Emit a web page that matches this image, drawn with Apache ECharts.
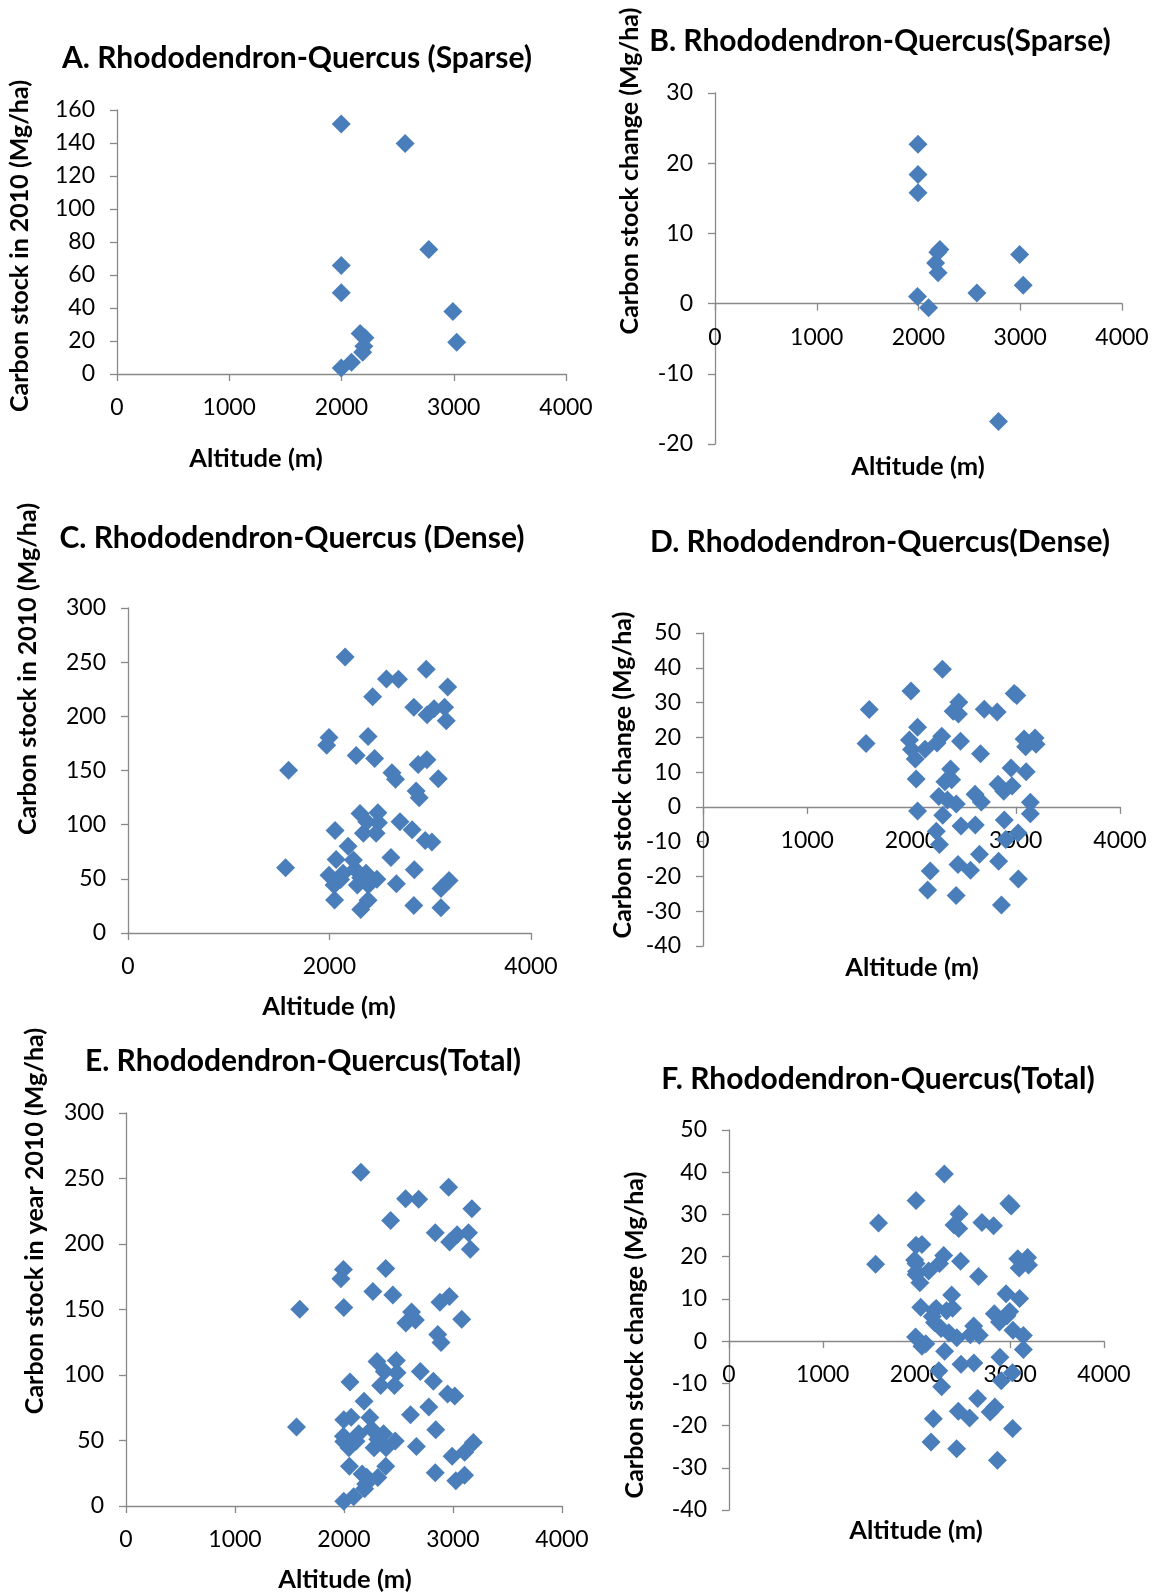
<!DOCTYPE html>
<html>
<head>
<meta charset="utf-8">
<script src="https://cdn.jsdelivr.net/npm/echarts@6/dist/echarts.min.js"></script>
<style>
  html, body { margin: 0; padding: 0; background: #fff; }
  #chart { width: 1154px; height: 1596px; }
</style>
</head>
<body>
<div id="chart"></div>
<script>
// Rhododendron-Quercus forest: carbon stock (2010) and carbon stock change vs altitude

// Sparse stands: carbon stock in 2010 (Mg/ha)
const sparseStockAlt = [1998, 2567, 2778, 1998, 1998, 2992, 3026, 2166, 2209, 2199, 2189, 2089, 1998];
const sparseStock    = [151.5, 139.7, 75.5, 65.8, 49.2, 37.9, 19.2, 24.5, 21.9, 16.8, 13.2, 7.1, 3.6];

// Sparse stands: carbon stock change (Mg/ha)
const sparseChangeAlt = [1995, 1995, 1995, 2210, 2190, 2168, 2192, 2994, 3029, 2574, 1990, 2099, 2786];
const sparseChange    = [22.7, 18.4, 15.8, 7.7, 7.3, 5.8, 4.4, 7.0, 2.6, 1.5, 1.0, -0.6, -16.8];

// Dense stands: carbon stock in 2010 (Mg/ha)
const denseStockAlt = [
  2155, 2960, 2565, 2685, 3173, 2428, 2837, 2969, 3038, 3142,
  3159, 1995, 1972, 2383, 2265, 2448, 1594, 2620, 2655, 2880,
  2967, 3080, 2860, 2890, 2303, 2480, 2370, 2486, 2336, 2463,
  2700, 2820, 2950, 3016, 2055, 2184, 2066, 2237, 2610, 1564,
  2842, 1995, 2045, 2110, 2135, 2253, 2276, 2310, 2363, 2386,
  2470, 2664, 3187, 3107, 2050, 2383, 2310, 2837, 3106
];
const denseStock = [
  254.8, 243.4, 234.5, 234.2, 227.0, 218.0, 208.5, 201.5, 207.0, 208.5,
  196.0, 180.5, 173.4, 181.3, 163.8, 161.0, 150.2, 148.0, 142.0, 155.5,
  160.0, 142.5, 131.0, 124.8, 110.4, 111.0, 102.7, 101.8, 92.0, 92.0,
  102.6, 95.2, 85.5, 84.0, 94.6, 80.0, 67.8, 67.5, 69.6, 60.3,
  58.3, 53.3, 44.4, 49.5, 55.1, 58.8, 44.4, 51.0, 55.1, 44.4,
  49.6, 45.4, 48.5, 41.0, 30.4, 30.3, 21.8, 25.4, 23.4
];

// Dense stands: carbon stock change (Mg/ha)
const denseChangeAlt = [
  2297, 1995, 2985, 3010, 1595, 2454, 2400, 2450, 2698, 2822,
  2058, 1564, 1980, 2000, 2036, 2130, 2245, 2290, 2470, 2662,
  3080, 3095, 3185, 3195, 2045, 2375, 2320, 2385, 2955, 3100,
  2830, 2885, 2965, 2262, 2345, 2430, 2610, 2670, 3140, 2058,
  2300, 3140, 2890, 2238, 2268, 2475, 2612, 3023, 2904, 2652,
  2836, 2446, 2566, 2180, 3025, 2155, 2428, 2863
];
const denseChange = [
  39.6, 33.3, 32.6, 32.0, 28.0, 30.1, 27.5, 26.7, 28.1, 27.3,
  22.9, 18.2, 19.2, 16.5, 13.8, 16.6, 18.4, 20.3, 18.9, 15.3,
  19.5, 17.3, 19.8, 18.0, 8.0, 10.9, 7.2, 7.8, 11.2, 10.1,
  6.5, 4.5, 6.0, 3.0, 2.0, 0.8, 3.6, 1.4, 1.3, -1.2,
  -2.4, -2.0, -3.8, -7.0, -10.8, -5.5, -5.2, -7.5, -9.4, -13.6,
  -15.6, -16.6, -18.2, -18.4, -20.7, -23.9, -25.5, -28.2
];

// Totals are the sparse and dense plots together
const totalStockAlt  = sparseStockAlt.concat(denseStockAlt);
const totalStock     = sparseStock.concat(denseStock);
const totalChangeAlt = sparseChangeAlt.concat(denseChangeAlt);
const totalChange    = sparseChange.concat(denseChange);

const panelTitles = [
  'A. Rhododendron-Quercus (Sparse)',
  'B. Rhododendron-Quercus(Sparse)',
  'C. Rhododendron-Quercus (Dense)',
  'D. Rhododendron-Quercus(Dense)',
  'E. Rhododendron-Quercus(Total)',
  'F. Rhododendron-Quercus(Total)'
];
const xTitle = 'Altitude (m)';
const yTitles = [
  'Carbon stock in 2010 (Mg/ha)',
  'Carbon stock change (Mg/ha)',
  'Carbon stock in 2010 (Mg/ha)',
  'Carbon stock change (Mg/ha)',
  'Carbon stock in year 2010 (Mg/ha)',
  'Carbon stock change (Mg/ha)'
];

const FONT = 'Lato, "Open Sans", sans-serif';
const BLUE = '#4A7EBB';
const AXIS = '#898989';

// plot rectangles and text anchors for the six panels
const panels = [
  { grid: { left: 117, top: 110, width: 449, height: 264 },
    x: { interval: 1000 }, y: { min: 0, max: 160, interval: 20 },
    title: [297, 58], xt: [256, 459], yt: [20, 246],
    alt: sparseStockAlt, val: sparseStock },
  { grid: { left: 715, top: 93, width: 407, height: 351 },
    x: { interval: 1000 }, y: { min: -20, max: 30, interval: 10 },
    title: [880, 41], xt: [918, 467], yt: [630, 171],
    alt: sparseChangeAlt, val: sparseChange },
  { grid: { left: 128, top: 608, width: 403, height: 325 },
    x: { interval: 2000 }, y: { min: 0, max: 300, interval: 50 },
    title: [292, 538], xt: [329, 1007], yt: [28, 669],
    alt: denseStockAlt, val: denseStock },
  { grid: { left: 703, top: 633, width: 417, height: 313 },
    x: { interval: 1000 }, y: { min: -40, max: 50, interval: 10 },
    title: [880, 542], xt: [912, 968], yt: [623, 775],
    alt: denseChangeAlt, val: denseChange },
  { grid: { left: 126, top: 1113, width: 436, height: 393 },
    x: { interval: 1000 }, y: { min: 0, max: 300, interval: 50 },
    title: [303, 1061], xt: [345, 1580], yt: [35, 1221],
    alt: totalStockAlt, val: totalStock },
  { grid: { left: 729, top: 1130, width: 375, height: 380 },
    x: { interval: 1000 }, y: { min: -40, max: 50, interval: 10 },
    title: [878, 1079], xt: [916, 1531], yt: [635, 1335],
    alt: totalChangeAlt, val: totalChange }
];

const grids = [], xAxes = [], yAxes = [], series = [], graphics = [];

panels.forEach((p, i) => {
  grids.push(Object.assign({ containLabel: false }, p.grid));
  // where the y range crosses zero, lift the altitude axis up to the zero line
  const lift = p.y.min < 0 ? -p.grid.height * (-p.y.min) / (p.y.max - p.y.min) : 0;
  xAxes.push({
    type: 'value', gridIndex: i, min: 0, max: 4000, interval: p.x.interval,
    position: 'bottom', offset: lift,
    axisLine: { show: true, onZero: false, lineStyle: { color: AXIS, width: 1.3 } },
    axisTick: { show: true, length: 7, lineStyle: { color: AXIS, width: 1.3 } },
    axisLabel: { color: '#000', fontFamily: FONT, fontSize: 23, margin: 22,
                 formatter: v => String(v) },
    splitLine: { show: false }
  });
  yAxes.push({
    type: 'value', gridIndex: i, min: p.y.min, max: p.y.max, interval: p.y.interval,
    axisLine: { show: true, onZero: false, lineStyle: { color: AXIS, width: 1.3 } },
    axisTick: { show: true, length: 7, lineStyle: { color: AXIS, width: 1.3 } },
    axisLabel: { color: '#000', fontFamily: FONT, fontSize: 23, margin: 22,
                 formatter: v => String(v) },
    splitLine: { show: false }
  });
  series.push({
    type: 'scatter', xAxisIndex: i, yAxisIndex: i,
    symbol: 'diamond', symbolSize: 19,
    itemStyle: { color: BLUE, opacity: 1 },
    data: p.alt.map((a, k) => [a, p.val[k]]),
    animation: false
  });
  const txt = (s, pos, font, rot) => ({
    type: 'text', x: pos[0], y: pos[1], rotation: rot || 0,
    style: {
      text: s, x: 0, y: 0, font: font, fill: '#000',
      textAlign: 'center', textVerticalAlign: 'middle',
      align: 'center', verticalAlign: 'middle'
    }
  });
  graphics.push(txt(panelTitles[i], p.title, 'bold 30px ' + FONT));
  graphics.push(txt(xTitle, p.xt, 'bold 25.5px ' + FONT));
  graphics.push(txt(yTitles[i], p.yt, 'bold 25px ' + FONT, Math.PI / 2));
});

const chart = echarts.init(document.getElementById('chart'), null, { renderer: 'canvas' });
chart.setOption({
  backgroundColor: '#fff',
  animation: false,
  grid: grids,
  xAxis: xAxes,
  yAxis: yAxes,
  series: series,
  graphic: { elements: graphics }
});
</script>
</body>
</html>
